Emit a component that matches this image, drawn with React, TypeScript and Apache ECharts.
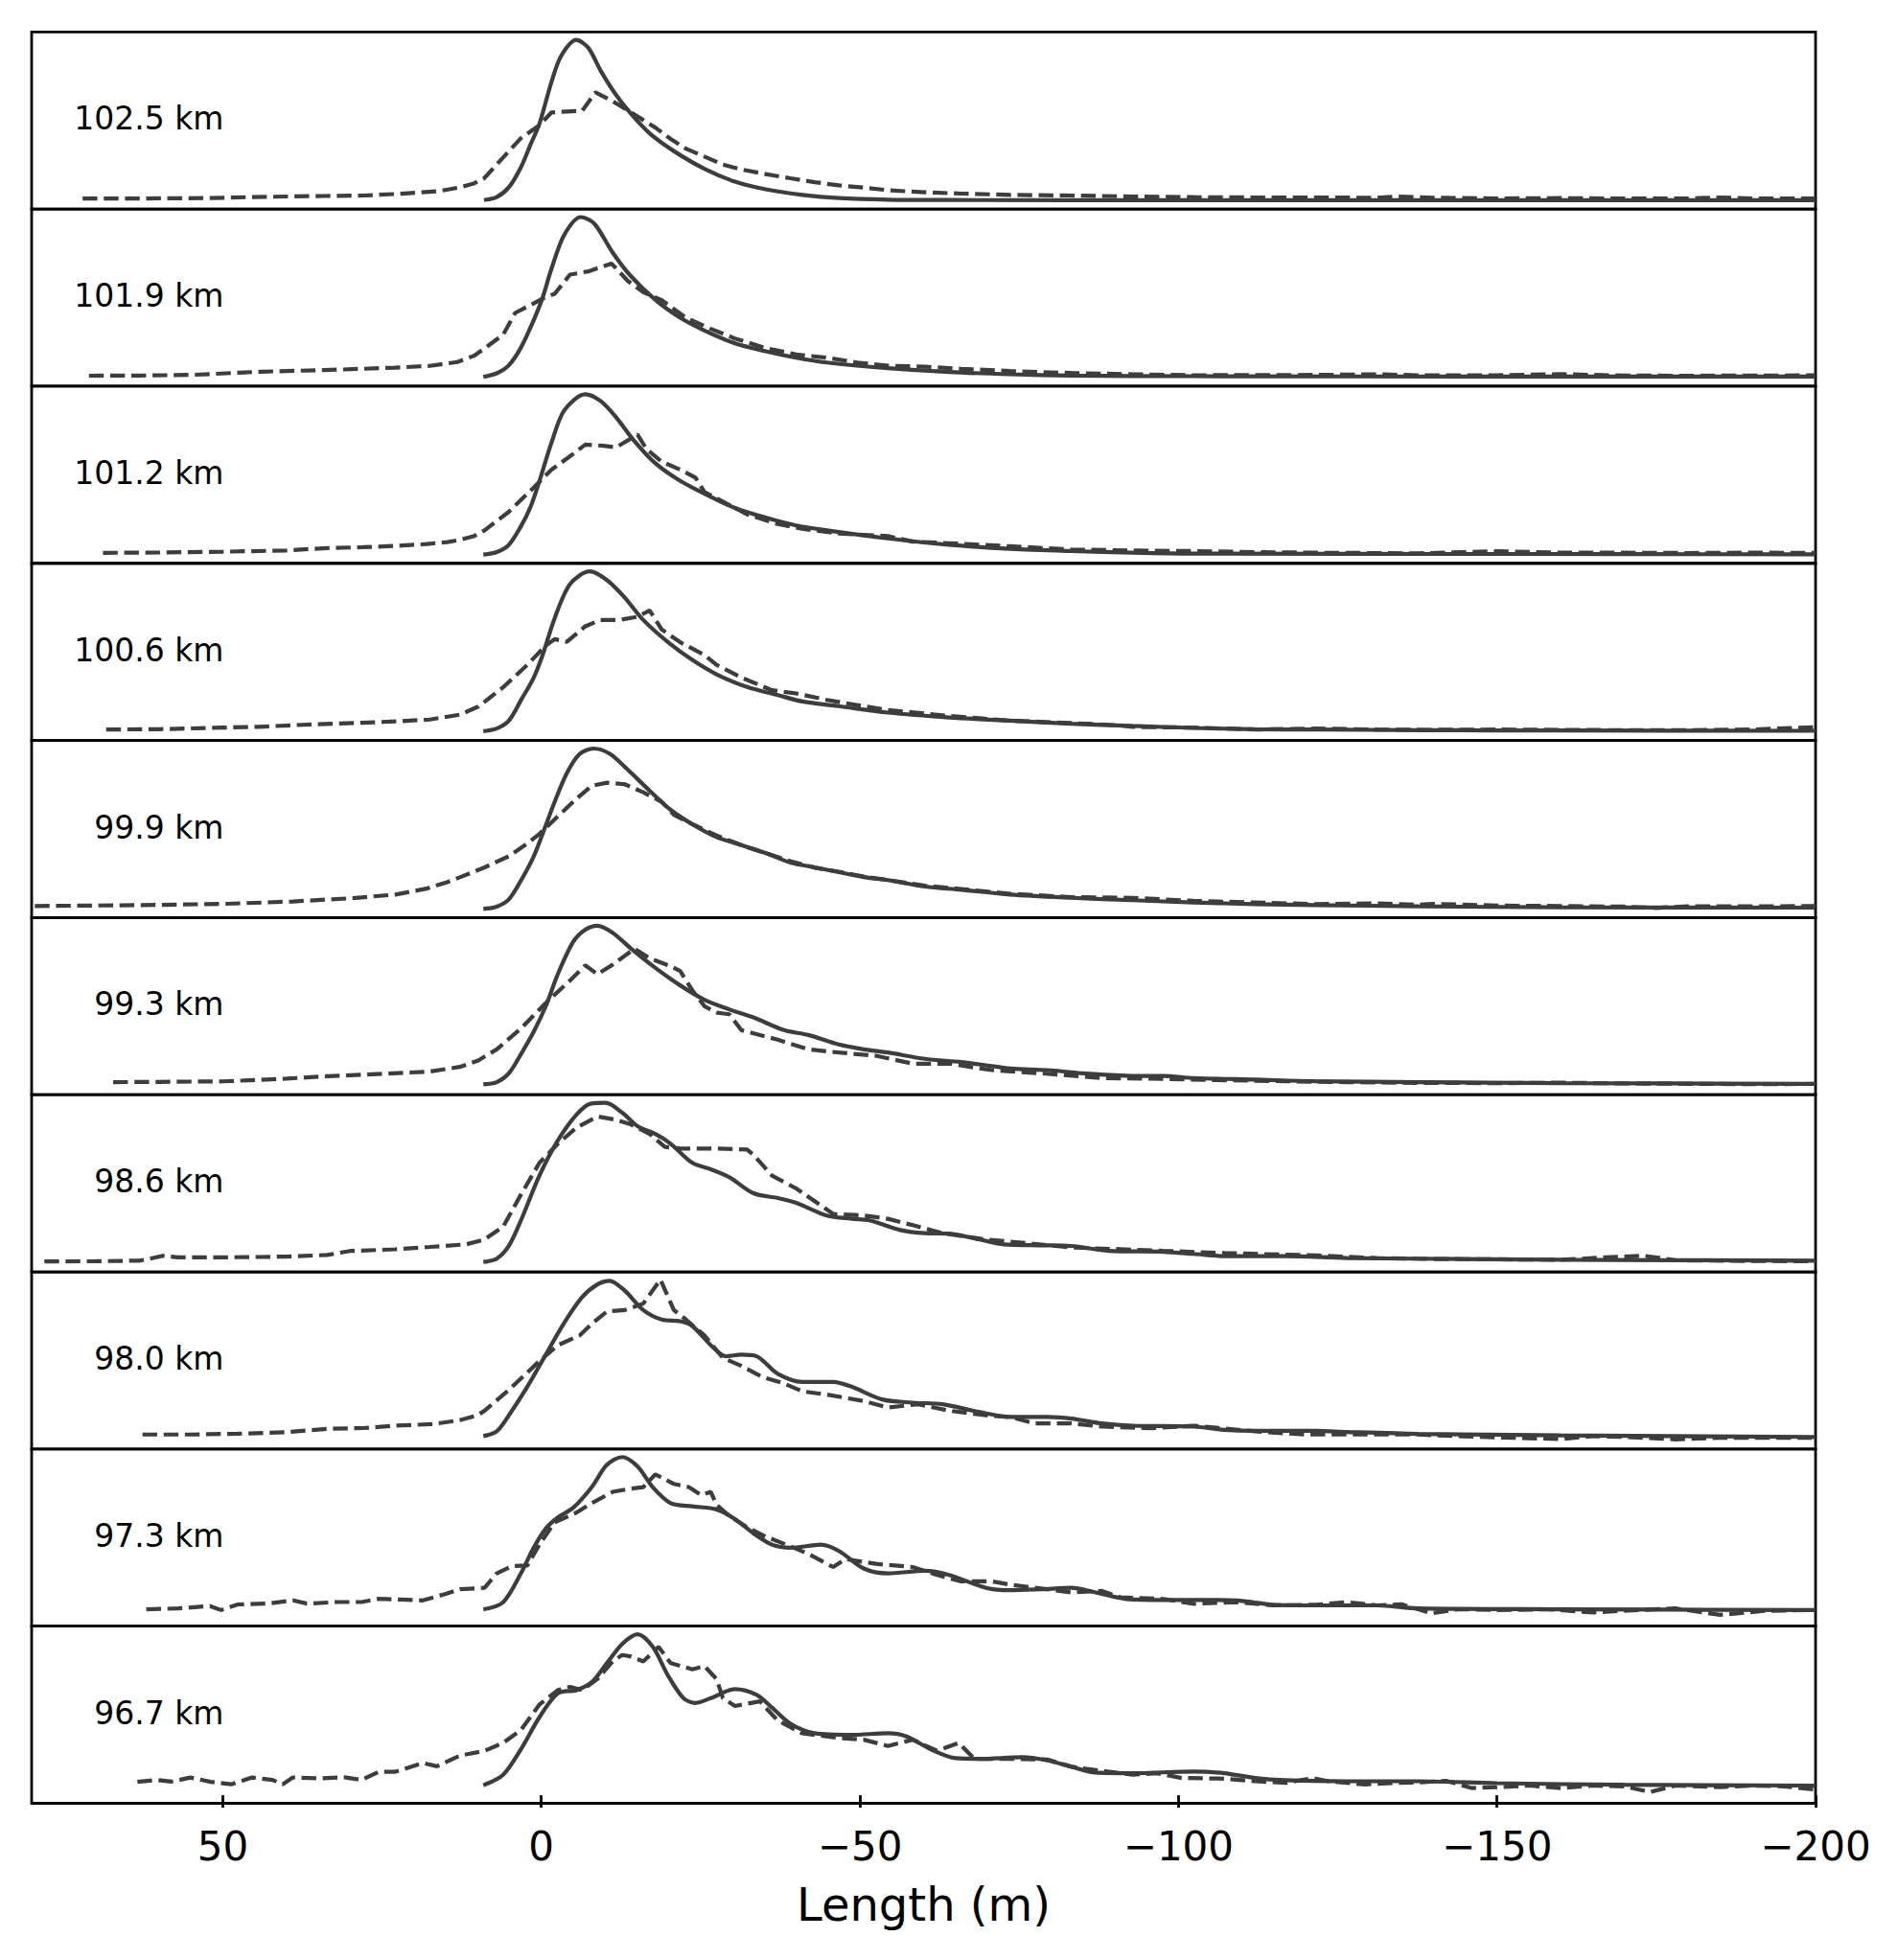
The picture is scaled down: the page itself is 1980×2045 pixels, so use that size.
import React, { useEffect, useRef } from "react";
import * as echarts from "echarts";

// Panel labels (top to bottom)
const panelLabels = ["102.5 km", "101.9 km", "101.2 km", "100.6 km", "99.9 km", "99.3 km", "98.6 km", "98.0 km", "97.3 km", "96.7 km"];

// x-axis tick values (Length, m)
const xTicks = [50, 0, -50, -100, -150, -200];

// ---- Model curves (solid), [length m, normalised amplitude] ----
const model1025 = [[9, 0.006], [7, 0.024], [5.1, 0.085], [3.2, 0.21], [1.7, 0.35], [0.3, 0.48], [-1.6, 0.74], [-3.1, 0.9], [-5.5, 1.0], [-7.4, 0.95], [-9.3, 0.81], [-11.7, 0.66], [-14.1, 0.54], [-17, 0.42], [-20.8, 0.31], [-25.6, 0.2], [-30.4, 0.12], [-35.2, 0.073], [-41, 0.038], [-46.7, 0.018], [-54.4, 0.008], [-64, 0.006], [-100, 0.005], [-150, 0.005], [-200, 0.005]];
const model1019 = [[9.1, 0.008], [7, 0.03], [5.1, 0.08], [3.2, 0.19], [1.2, 0.36], [-0.2, 0.5], [-1.6, 0.68], [-3.6, 0.89], [-6.2, 1.0], [-8.3, 0.96], [-11.2, 0.78], [-13.9, 0.64], [-17.9, 0.486], [-21.8, 0.375], [-25.6, 0.296], [-30.4, 0.216], [-35.2, 0.167], [-40, 0.127], [-44.8, 0.097], [-54.4, 0.062], [-64, 0.038], [-73.6, 0.024], [-83.2, 0.016], [-102.4, 0.012], [-150, 0.01], [-200, 0.01]];
const model1012 = [[9.1, 0.004], [7, 0.02], [5.1, 0.065], [3.2, 0.18], [1.7, 0.3], [0.3, 0.46], [-1.6, 0.7], [-3.6, 0.9], [-6.9, 1.0], [-9.3, 0.958], [-11.7, 0.859], [-14.6, 0.71], [-17.9, 0.571], [-21.8, 0.462], [-25.6, 0.383], [-30.4, 0.294], [-35.2, 0.234], [-40, 0.185], [-44.8, 0.155], [-54.4, 0.105], [-64, 0.065], [-73.6, 0.04], [-83.2, 0.026], [-92.8, 0.016], [-102.4, 0.01], [-150, 0.008], [-200, 0.006]];
const model1006 = [[9.1, 0.008], [7, 0.024], [5.1, 0.073], [3.2, 0.2], [1.2, 0.34], [-0.2, 0.48], [-2.1, 0.71], [-4.5, 0.92], [-7.6, 1.0], [-10.3, 0.946], [-13.1, 0.837], [-16, 0.698], [-19.9, 0.56], [-23.7, 0.45], [-27.5, 0.361], [-32.3, 0.282], [-37.1, 0.232], [-41, 0.192], [-46.7, 0.163], [-54.4, 0.123], [-64, 0.093], [-73.6, 0.073], [-83.2, 0.054], [-92.8, 0.04], [-102.4, 0.028], [-112, 0.02], [-121.6, 0.018], [-137.7, 0.014], [-160, 0.012], [-200, 0.01]];
const model999 = [[9.1, 0.004], [7, 0.018], [5.1, 0.063], [3.2, 0.18], [1.2, 0.33], [-0.2, 0.47], [-2.1, 0.67], [-4, 0.847], [-6, 0.966], [-8.2, 1.0], [-10.8, 0.966], [-13.6, 0.867], [-17, 0.738], [-20.3, 0.619], [-23.7, 0.53], [-27.5, 0.45], [-31.4, 0.4], [-35.2, 0.351], [-39.1, 0.292], [-42.9, 0.262], [-46.7, 0.232], [-50.6, 0.202], [-54.4, 0.183], [-60.2, 0.143], [-65.9, 0.123], [-73.6, 0.093], [-83.2, 0.073], [-92.8, 0.058], [-102.4, 0.044], [-112, 0.034], [-121.6, 0.028], [-137.7, 0.02], [-160, 0.014], [-200, 0.012]];
const model993 = [[9.1, 0.014], [7, 0.028], [5.1, 0.083], [3.2, 0.202], [1.2, 0.341], [-0.7, 0.5], [-2.6, 0.7], [-5, 0.9], [-6.9, 0.975], [-8.8, 1.0], [-11.2, 0.956], [-14.1, 0.857], [-17.9, 0.738], [-21.8, 0.629], [-25.6, 0.54], [-29.5, 0.48], [-33.3, 0.43], [-38.1, 0.351], [-41.9, 0.321], [-46.7, 0.262], [-50.6, 0.232], [-54.4, 0.212], [-60.2, 0.173], [-65.9, 0.153], [-69.8, 0.133], [-73.6, 0.113], [-79.4, 0.103], [-85.1, 0.083], [-92.8, 0.067], [-97.6, 0.067], [-102.4, 0.054], [-112, 0.044], [-121.6, 0.034], [-137.7, 0.028], [-160, 0.022], [-200, 0.018]];
const model986 = [[9.1, 0.012], [7, 0.032], [5.1, 0.111], [3.2, 0.27], [0.3, 0.548], [-2.6, 0.766], [-5.5, 0.925], [-7.7, 0.994], [-10.1, 1.0], [-12.8, 0.935], [-15.1, 0.855], [-17.9, 0.806], [-20.3, 0.746], [-23.7, 0.627], [-26.6, 0.587], [-29.5, 0.538], [-33.3, 0.438], [-37.1, 0.409], [-40, 0.379], [-44.8, 0.3], [-48.7, 0.28], [-51.5, 0.27], [-56.3, 0.21], [-60.2, 0.19], [-64, 0.187], [-68.8, 0.151], [-72.6, 0.121], [-78.4, 0.115], [-83.2, 0.111], [-89, 0.081], [-97.6, 0.075], [-102.4, 0.062], [-107.2, 0.048], [-116.8, 0.048], [-126.4, 0.036], [-137.7, 0.032], [-160, 0.025], [-200, 0.02]];
const model980 = [[9.1, 0.03], [7, 0.06], [5.1, 0.159], [2.2, 0.337], [-0.7, 0.536], [-3.6, 0.734], [-6.4, 0.893], [-8.8, 0.972], [-10.7, 0.995], [-13.1, 0.933], [-16, 0.813], [-18.9, 0.754], [-21.8, 0.744], [-23.7, 0.714], [-26.6, 0.595], [-29, 0.526], [-31.4, 0.536], [-33.8, 0.526], [-37.1, 0.417], [-41, 0.367], [-45.8, 0.367], [-48.7, 0.337], [-53.5, 0.258], [-58.3, 0.238], [-63, 0.228], [-68.8, 0.179], [-73.6, 0.149], [-79.4, 0.149], [-83.2, 0.139], [-88, 0.109], [-92.8, 0.095], [-102.4, 0.089], [-107.2, 0.069], [-112, 0.063], [-121.6, 0.063], [-126.4, 0.056], [-137.7, 0.044], [-160, 0.035], [-200, 0.025]];
const model973 = [[9.1, 0.054], [6, 0.099], [3.2, 0.278], [1.2, 0.437], [-0.7, 0.556], [-2.6, 0.625], [-5, 0.685], [-7.9, 0.813], [-10.3, 0.952], [-12.7, 1.0], [-15.1, 0.942], [-17.5, 0.813], [-20.3, 0.714], [-23.7, 0.694], [-27.5, 0.675], [-30.4, 0.615], [-33.3, 0.526], [-36.2, 0.456], [-39.1, 0.437], [-43.9, 0.456], [-46.7, 0.417], [-50.6, 0.308], [-54.4, 0.278], [-60.2, 0.294], [-64, 0.268], [-69.8, 0.188], [-73.6, 0.173], [-78.4, 0.179], [-83.2, 0.188], [-87, 0.159], [-91.8, 0.119], [-97.6, 0.113], [-102.4, 0.113], [-109.1, 0.109], [-114.9, 0.083], [-121.6, 0.079], [-131.2, 0.079], [-137.7, 0.06], [-160, 0.055], [-200, 0.05]];
const model967 = [[9.1, 0.062], [6, 0.127], [3.2, 0.286], [0.3, 0.484], [-2.6, 0.633], [-5.5, 0.653], [-7.9, 0.702], [-10.3, 0.821], [-12.7, 0.94], [-15.1, 1.0], [-17.5, 0.921], [-19.9, 0.742], [-22.3, 0.603], [-24.2, 0.573], [-26.6, 0.603], [-30.4, 0.659], [-33.8, 0.623], [-36.2, 0.544], [-39.1, 0.444], [-42.9, 0.385], [-48.7, 0.375], [-54.4, 0.385], [-57.3, 0.365], [-61.1, 0.286], [-65, 0.23], [-68.8, 0.226], [-75.5, 0.236], [-79.4, 0.216], [-83.2, 0.177], [-87, 0.141], [-92.8, 0.137], [-102.4, 0.147], [-107.2, 0.137], [-112, 0.107], [-116.8, 0.093], [-126.4, 0.087], [-137.7, 0.087], [-150, 0.075], [-170, 0.065], [-200, 0.06]];

// ---- Observed profiles (dashed), [length m, normalised amplitude] ----
const obs1025 = [[72, 0.016], [65, 0.015], [58, 0.017], [52, 0.018], [46, 0.024], [40, 0.028], [34, 0.031], [28, 0.034], [22, 0.045], [16, 0.062], [12.8, 0.085], [10.5, 0.11], [9, 0.14], [6, 0.27], [3.2, 0.39], [0.3, 0.47], [-1.6, 0.55], [-4, 0.556], [-6.4, 0.56], [-8.5, 0.675], [-11.2, 0.62], [-14.1, 0.55], [-17.9, 0.456], [-20.3, 0.385], [-22.7, 0.325], [-25.6, 0.276], [-28.5, 0.226], [-31.4, 0.196], [-35.2, 0.167], [-39.1, 0.141], [-42.9, 0.117], [-46.7, 0.097], [-50.6, 0.083], [-54.4, 0.067], [-60.2, 0.054], [-65.9, 0.046], [-73.6, 0.038], [-83.2, 0.034], [-92.8, 0.028], [-102.4, 0.024], [-112, 0.022], [-121.6, 0.022], [-131.2, 0.02], [-134.1, 0.028], [-140, 0.02], [-150, 0.016], [-160, 0.018], [-170, 0.015], [-180, 0.016], [-185, 0.022], [-190, 0.016], [-200, 0.015]];
const obs1019 = [[71, 0.015], [63, 0.016], [55, 0.02], [44, 0.04], [34, 0.05], [28, 0.058], [23, 0.065], [17.5, 0.076], [13.2, 0.1], [10.5, 0.14], [8.4, 0.2], [6, 0.27], [4.1, 0.405], [2.2, 0.444], [-0.2, 0.494], [-2.1, 0.524], [-4.5, 0.643], [-7.4, 0.663], [-11, 0.712], [-13.6, 0.603], [-16, 0.534], [-18.9, 0.484], [-22.7, 0.375], [-26.6, 0.306], [-30.4, 0.246], [-35.2, 0.187], [-40, 0.147], [-44.8, 0.127], [-49.6, 0.097], [-54.4, 0.077], [-60.2, 0.071], [-65.9, 0.058], [-73.6, 0.044], [-83.2, 0.032], [-92.8, 0.024], [-102.4, 0.018], [-121.6, 0.02], [-131.2, 0.024], [-137.7, 0.018], [-150, 0.018], [-160, 0.025], [-170, 0.016], [-180, 0.015], [-190, 0.016], [-200, 0.017]];
const obs1012 = [[68.8, 0.015], [60, 0.017], [50, 0.022], [40, 0.03], [33.6, 0.045], [28, 0.05], [23, 0.058], [18, 0.07], [14.8, 0.082], [12.8, 0.095], [10.5, 0.12], [8.9, 0.155], [5.1, 0.27], [1.2, 0.42], [-1.6, 0.532], [-4, 0.6], [-6.9, 0.687], [-9.8, 0.68], [-11.7, 0.67], [-13, 0.7], [-15.1, 0.75], [-16.5, 0.66], [-18.9, 0.581], [-21.8, 0.532], [-24.2, 0.482], [-25.6, 0.393], [-28.5, 0.333], [-32.3, 0.254], [-37.1, 0.194], [-40.9, 0.165], [-46.7, 0.135], [-54.4, 0.119], [-58.3, 0.085], [-64, 0.075], [-73.6, 0.056], [-83.2, 0.036], [-92.8, 0.03], [-102.4, 0.026], [-112, 0.02], [-121.6, 0.016], [-137.7, 0.012], [-145, 0.02], [-150, 0.025], [-160, 0.016], [-170, 0.016], [-180, 0.014], [-190, 0.016], [-200, 0.015]];
const obs1006 = [[68.3, 0.018], [60, 0.02], [50, 0.03], [44.4, 0.035], [36, 0.05], [28.2, 0.06], [22, 0.07], [17.5, 0.08], [12.8, 0.11], [9.9, 0.16], [6, 0.28], [2.2, 0.42], [-0.7, 0.54], [-2.1, 0.579], [-4, 0.563], [-6.9, 0.659], [-9.3, 0.698], [-12.2, 0.698], [-15.1, 0.718], [-17, 0.758], [-18.9, 0.639], [-21.8, 0.56], [-25.6, 0.48], [-27.5, 0.42], [-31.4, 0.341], [-36.2, 0.262], [-40, 0.242], [-44.8, 0.202], [-50.6, 0.163], [-54.4, 0.139], [-64, 0.103], [-73.6, 0.073], [-83.2, 0.058], [-90.9, 0.044], [-92.8, 0.034], [-102.4, 0.03], [-112, 0.018], [-121.6, 0.024], [-131.2, 0.018], [-140, 0.016], [-150, 0.018], [-160, 0.016], [-170, 0.014], [-180, 0.014], [-190, 0.018], [-200, 0.032]];
const obs999 = [[79.5, 0.022], [70, 0.025], [60.5, 0.029], [50, 0.035], [39, 0.05], [30, 0.07], [22.9, 0.093], [18, 0.13], [14.8, 0.17], [12.8, 0.2], [8.9, 0.262], [5.1, 0.331], [2.2, 0.41], [0.3, 0.47], [-2.6, 0.579], [-5.5, 0.688], [-7.9, 0.768], [-10.3, 0.788], [-13.1, 0.778], [-16, 0.728], [-18.9, 0.669], [-20.8, 0.589], [-23.7, 0.53], [-27.5, 0.46], [-31.4, 0.4], [-35.2, 0.35], [-39.1, 0.3], [-42.9, 0.26], [-46.7, 0.235], [-50.6, 0.205], [-54.4, 0.183], [-60.2, 0.148], [-65.9, 0.128], [-73.6, 0.098], [-83.2, 0.077], [-92.8, 0.073], [-102.4, 0.054], [-112, 0.044], [-121.6, 0.034], [-131.2, 0.038], [-137.7, 0.03], [-140, 0.035], [-150, 0.025], [-160, 0.022], [-170, 0.018], [-175, 0.01], [-180, 0.02], [-190, 0.02], [-200, 0.022]];
const obs993 = [[67.2, 0.028], [60, 0.03], [50, 0.033], [40, 0.05], [33.6, 0.065], [25, 0.08], [17.5, 0.094], [12.8, 0.123], [9.9, 0.163], [7, 0.232], [3.2, 0.361], [-0.7, 0.52], [-4.5, 0.659], [-6.9, 0.754], [-8.8, 0.698], [-11.2, 0.758], [-14.6, 0.857], [-17, 0.798], [-20.3, 0.748], [-21.8, 0.718], [-23.7, 0.599], [-25.6, 0.5], [-27.5, 0.46], [-29.5, 0.45], [-31.4, 0.351], [-37.1, 0.292], [-41.9, 0.232], [-46.7, 0.212], [-52.5, 0.192], [-58.3, 0.143], [-64, 0.143], [-70.7, 0.103], [-78.4, 0.083], [-88, 0.054], [-97.6, 0.048], [-107.2, 0.04], [-116.8, 0.034], [-126.4, 0.028], [-137.7, 0.024], [-150, 0.022], [-160, 0.025], [-170, 0.02], [-180, 0.018], [-190, 0.016], [-200, 0.017]];
const obs986 = [[78, 0.015], [70, 0.016], [63, 0.02], [61.6, 0.03], [59.4, 0.05], [57, 0.04], [50, 0.04], [40, 0.045], [33.6, 0.055], [30, 0.08], [23, 0.09], [17.5, 0.105], [11.8, 0.121], [9, 0.15], [6, 0.23], [3.2, 0.43], [0.3, 0.627], [-2.6, 0.746], [-5.5, 0.845], [-8.8, 0.915], [-11.7, 0.895], [-14.1, 0.865], [-17, 0.806], [-19.4, 0.726], [-21.8, 0.716], [-27.5, 0.716], [-32.3, 0.71], [-33.3, 0.677], [-36.2, 0.548], [-40, 0.468], [-42.9, 0.389], [-45.8, 0.31], [-50.6, 0.3], [-54.4, 0.28], [-58.3, 0.24], [-63, 0.19], [-69.8, 0.151], [-75.5, 0.131], [-83.2, 0.101], [-90.9, 0.091], [-97.6, 0.081], [-107.2, 0.067], [-112, 0.062], [-121.6, 0.052], [-131.2, 0.036], [-140, 0.03], [-150, 0.028], [-160, 0.025], [-167, 0.04], [-173, 0.05], [-178, 0.022], [-190, 0.018], [-200, 0.016]];
const obs980 = [[62.6, 0.04], [55, 0.04], [47.6, 0.045], [40, 0.055], [33.6, 0.075], [28, 0.08], [22.9, 0.095], [17, 0.105], [12.8, 0.129], [10, 0.16], [8.9, 0.188], [5.1, 0.317], [0.3, 0.496], [-2.6, 0.595], [-6, 0.655], [-8.1, 0.734], [-10.3, 0.804], [-13.1, 0.813], [-16, 0.853], [-18.7, 1.002], [-20.8, 0.813], [-22.7, 0.754], [-25.6, 0.655], [-28.5, 0.516], [-31.4, 0.466], [-34.7, 0.397], [-38.1, 0.357], [-41, 0.308], [-44.8, 0.288], [-47.7, 0.268], [-50.6, 0.248], [-54.4, 0.208], [-59.2, 0.228], [-64, 0.188], [-69.8, 0.159], [-73.6, 0.149], [-77.4, 0.109], [-83.2, 0.109], [-88, 0.089], [-95.7, 0.079], [-102.4, 0.095], [-112, 0.06], [-119.7, 0.04], [-126.4, 0.04], [-137.7, 0.04], [-140, 0.035], [-150, 0.022], [-160, 0.012], [-165, 0.03], [-170, 0.025], [-178, 0.01], [-185, 0.02], [-200, 0.02]];
const obs973 = [[62, 0.055], [57, 0.06], [52, 0.075], [50.3, 0.05], [47.6, 0.085], [43, 0.09], [39, 0.11], [36.8, 0.09], [32, 0.1], [28.2, 0.1], [25.5, 0.12], [22, 0.115], [18.6, 0.11], [15, 0.15], [12.8, 0.179], [8.9, 0.188], [7, 0.278], [4.6, 0.323], [2.2, 0.327], [0.3, 0.456], [-2.1, 0.595], [-5.5, 0.655], [-7.9, 0.714], [-11.2, 0.784], [-14.1, 0.804], [-16, 0.813], [-17.9, 0.893], [-20.8, 0.833], [-23.2, 0.813], [-25.1, 0.764], [-26.6, 0.784], [-27.5, 0.704], [-29.5, 0.635], [-32.3, 0.565], [-35.2, 0.506], [-39.1, 0.446], [-42, 0.397], [-45.8, 0.317], [-47.7, 0.367], [-52.5, 0.337], [-58.3, 0.317], [-62.1, 0.268], [-65.9, 0.228], [-70.7, 0.228], [-73.6, 0.208], [-79.4, 0.179], [-83.2, 0.159], [-88, 0.169], [-90.9, 0.129], [-97.6, 0.119], [-102.4, 0.089], [-109.1, 0.099], [-114.9, 0.079], [-121.6, 0.083], [-126.4, 0.099], [-131.2, 0.079], [-135, 0.086], [-139.7, 0.03], [-144, 0.055], [-150, 0.05], [-158, 0.055], [-165, 0.035], [-172, 0.05], [-178, 0.06], [-185, 0.02], [-192, 0.045], [-200, 0.05]];
const obs967 = [[63.4, 0.083], [60.5, 0.095], [58, 0.085], [55.1, 0.11], [51.9, 0.083], [48.7, 0.068], [45.4, 0.11], [42.2, 0.095], [40.6, 0.068], [39, 0.11], [35, 0.105], [30.9, 0.111], [28.2, 0.095], [25.5, 0.146], [22.9, 0.146], [18.6, 0.2], [16.4, 0.18], [12.8, 0.246], [8.9, 0.276], [6, 0.325], [3.2, 0.405], [0.3, 0.563], [-2.6, 0.653], [-4.5, 0.673], [-6.4, 0.653], [-8.8, 0.722], [-11.2, 0.831], [-12.7, 0.871], [-14.1, 0.861], [-16, 0.831], [-18.4, 0.921], [-20.3, 0.821], [-23.7, 0.782], [-25.6, 0.802], [-27.5, 0.722], [-28.5, 0.603], [-30.4, 0.554], [-34.3, 0.583], [-37.1, 0.464], [-40.9, 0.385], [-46.7, 0.355], [-50.6, 0.345], [-54.4, 0.306], [-58.3, 0.345], [-62.1, 0.276], [-65.5, 0.325], [-68, 0.226], [-73.6, 0.226], [-79.4, 0.222], [-83.2, 0.177], [-88.9, 0.147], [-92.8, 0.127], [-96.6, 0.137], [-100.5, 0.107], [-107.2, 0.103], [-112, 0.087], [-116.8, 0.077], [-121.1, 0.107], [-123.5, 0.087], [-129.3, 0.067], [-134.1, 0.077], [-138, 0.08], [-142, 0.09], [-146, 0.045], [-150, 0.05], [-155, 0.06], [-160, 0.045], [-165, 0.06], [-170, 0.055], [-174, 0.02], [-178, 0.06], [-185, 0.05], [-190, 0.06], [-195, 0.055], [-200, 0.035]];

const models = [model1025, model1019, model1012, model1006, model999, model993, model986, model980, model973, model967];
const observations = [obs1025, obs1019, obs1012, obs1006, obs999, obs993, obs986, obs980, obs973, obs967];

const FONT = '"DejaVu Sans", "Liberation Sans", sans-serif';
const LINE_COLOR = "#3d3d3d";

export default function App() {
  const ref = useRef<HTMLDivElement>(null);

  useEffect(() => {
    if (!ref.current) return;
    const chart = echarts.init(ref.current, null, { renderer: "svg" });

    const left = 33;
    const right = 1894;
    const top = 33.3;
    const bottom = 1881.5;
    const n = panelLabels.length;
    const ph = (bottom - top) / n;

    const grids: any[] = [];
    const xAxes: any[] = [];
    const yAxes: any[] = [];
    const series: any[] = [];
    const graphics: any[] = [];

    for (let i = 0; i < n; i++) {
      const isLast = i === n - 1;
      grids.push({
        left,
        top: top + i * ph,
        width: right - left,
        height: ph,
        show: true,
        borderColor: "#000",
        borderWidth: 2.8,
        backgroundColor: "transparent",
        containLabel: false,
      });
      xAxes.push({
        type: "value",
        gridIndex: i,
        min: -200,
        max: 80,
        interval: 50,
        inverse: true,
        axisLine: { show: false },
        splitLine: { show: false },
        axisTick: {
          show: isLast,
          customValues: xTicks,
          length: 13,
          inside: false,
          lineStyle: { color: "#000", width: 2.8 },
        },
        axisLabel: {
          show: isLast,
          customValues: xTicks,
          margin: 24,
          fontSize: 42,
          fontFamily: FONT,
          color: "#000",
          formatter: (v: number) => (v === 80 ? "" : String(v).replace("-", "\u2212")),
        },
      });
      yAxes.push({
        type: "value",
        gridIndex: i,
        min: -0.05,
        max: 1.05,
        show: false,
        splitLine: { show: false },
      });
      series.push({
        type: "line",
        name: "model " + panelLabels[i],
        xAxisIndex: i,
        yAxisIndex: i,
        data: models[i],
        symbol: "none",
        showSymbol: false,
        smooth: 0.3,
        lineStyle: { color: LINE_COLOR, width: 4.2 },
        z: 3,
      });
      series.push({
        type: "line",
        name: "observed " + panelLabels[i],
        xAxisIndex: i,
        yAxisIndex: i,
        data: observations[i],
        symbol: "none",
        showSymbol: false,
        lineStyle: { color: LINE_COLOR, width: 4.2, type: [15.4, 6.7] },
        z: 2,
      });
      graphics.push({
        type: "text",
        x: 233.5,
        y: top + i * ph + ph * 0.49,
        style: {
          text: panelLabels[i],
          font: `33px ${FONT}`,
          fill: "#000",
          textAlign: "right",
          textVerticalAlign: "middle",
          align: "right",
          verticalAlign: "middle",
        },
      });
    }

    graphics.push({
      type: "text",
      x: 963.5,
      y: 1987,
      style: {
        text: "Length (m)",
        font: `48px ${FONT}`,
        fill: "#000",
        textAlign: "center",
        textVerticalAlign: "middle",
        align: "center",
        verticalAlign: "middle",
      },
    });

    chart.setOption({
      animation: false,
      backgroundColor: "#fff",
      grid: grids,
      xAxis: xAxes,
      yAxis: yAxes,
      series,
      graphic: graphics,
    });

    return () => chart.dispose();
  }, []);

  return (
    <div
      ref={ref}
      style={{ position: "absolute", left: 0, top: 0, width: 1980, height: 2045 }}
    />
  );
}
